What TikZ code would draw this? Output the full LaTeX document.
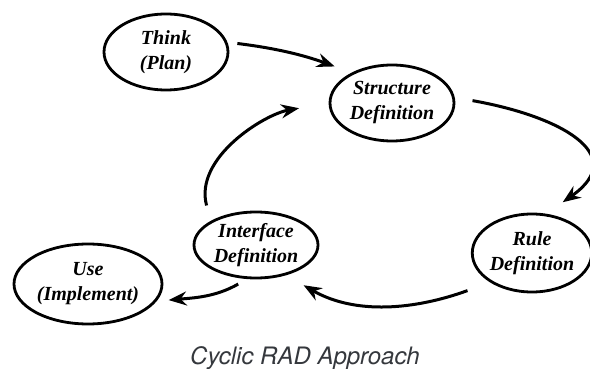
\documentclass[tikz,border=0pt]{standalone}
\usepackage{fontspec}
\setmainfont{Liberation Serif}
\newfontfamily\captionfont{TeX Gyre Heros}
\usetikzlibrary{positioning,shapes.geometric,arrows.meta}
\definecolor{captiongray}{HTML}{35383D}

\begin{document}
\begin{tikzpicture}[x=0.5pt, y=-0.5pt,
    phase/.style={ellipse, draw, line width=1.4pt, inner sep=0pt, align=center,
        font=\fontsize{10}{12.5}\selectfont\bfseries\itshape},
    flow/.style={-{Stealth[length=9pt,width=7pt,inset=3pt]}, line width=1.5pt}]
    \useasboundingbox (0,0) rectangle (590,369);

    % Nodes
    \node[phase, minimum width=62pt, minimum height=38pt] (think) at (166,52) {Think\\(Plan)};
    \node[phase, minimum width=62pt, minimum height=38pt] (structure) at (392,103) {Structure\\Definition};
    \node[phase, minimum width=57pt, minimum height=39pt] (rule) at (532,253) {Rule\\Definition};
    \node[phase, minimum width=62pt, minimum height=33pt] (interface) at (256,245) {Interface\\Definition};
    \node[phase, minimum width=74pt, minimum height=40pt] (use) at (88,284) {Use\\(Implement)};

    % Edges of the cycle
    \draw[flow, shorten <=5pt, shorten >=9pt] (think.9) to[out=-7, in=160] (structure.143);
    \draw[flow, shorten <=9pt, shorten >=10pt] (structure.5) to[out=-10, in=35, looseness=1.8] (rule.70);
    \draw[flow, shorten <=12pt, shorten >=10pt] (rule.215) to[out=200, in=-30] (interface.-45);
    \draw[flow, shorten <=8pt, shorten >=15pt] (interface.152) to[out=105, in=190] (structure.west);
    \draw[flow, shorten <=5pt, shorten >=6pt] (interface.255) to[out=210, in=5] (use.-14);

    % Caption
    \node[font=\captionfont\itshape\fontsize{12}{14}\selectfont, text=captiongray] (caption) at (305,358) {Cyclic RAD Approach};
\end{tikzpicture}
\end{document}
